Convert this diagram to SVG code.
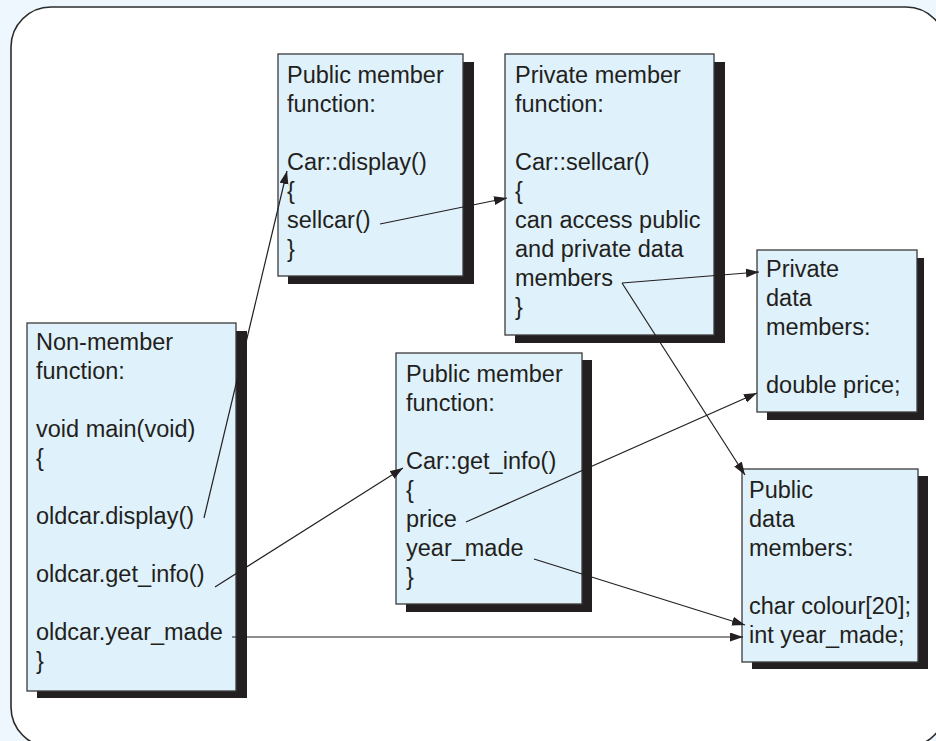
<svg xmlns="http://www.w3.org/2000/svg" width="936" height="741" viewBox="0 0 936 741">
<defs>
<style>
.bg{fill:#eef7fd}
.frame{fill:#ffffff;stroke:#2b2b2b;stroke-width:1.6}
.shadow{fill:#231f20}
.box{fill:#dff1fa;stroke:#3a3a3a;stroke-width:1.3}
text{font-family:"Liberation Sans",Arial,Helvetica,sans-serif;font-size:23.5px;fill:#231f20}
.conn line{stroke:#231f20;stroke-width:1.2;fill:none;marker-end:url(#arr)}
</style>
<marker id="arr" markerUnits="userSpaceOnUse" markerWidth="14" markerHeight="10" refX="13" refY="4.5" orient="auto">
<path d="M0,0 L13,4.5 L0,9 z" fill="#231f20"/>
</marker>
</defs>
<rect class="bg" x="0" y="0" width="936" height="741"/>
<rect class="frame" x="11" y="7" width="935" height="740" rx="40" ry="40"/>

<g id="public-display">
<rect class="shadow" x="288" y="62" width="186" height="222"/>
<rect class="box" x="278" y="54" width="185" height="222"/>
<text x="287" y="83">Public member</text>
<text x="287" y="112">function:</text>
<text x="287" y="170">Car::display()</text>
<text x="287" y="199">{</text>
<text x="287" y="228">sellcar()</text>
<text x="287" y="257">}</text>
</g>

<g id="private-sellcar">
<rect class="shadow" x="515" y="62" width="210" height="281"/>
<rect class="box" x="505" y="54" width="209" height="281"/>
<text x="515" y="83">Private member</text>
<text x="515" y="112">function:</text>
<text x="515" y="170">Car::sellcar()</text>
<text x="515" y="199">{</text>
<text x="515" y="228">can access public</text>
<text x="515" y="257">and private data</text>
<text x="515" y="286">members</text>
<text x="515" y="315">}</text>
</g>

<g id="private-data">
<rect class="shadow" x="767" y="258" width="157" height="162"/>
<rect class="box" x="757" y="250" width="160" height="162"/>
<text x="766" y="277">Private</text>
<text x="766" y="306">data</text>
<text x="766" y="335">members:</text>
<text x="766" y="393">double price;</text>
</g>

<g id="non-member">
<rect class="shadow" x="37" y="331" width="210" height="367"/>
<rect class="box" x="27" y="323" width="209" height="368"/>
<text x="36" y="350">Non-member</text>
<text x="36" y="379">function:</text>
<text x="36" y="437">void main(void)</text>
<text x="36" y="466">{</text>
<text x="36" y="524">oldcar.display()</text>
<text x="36" y="582">oldcar.get_info()</text>
<text x="36" y="640">oldcar.year_made</text>
<text x="36" y="669">}</text>
</g>

<g id="public-get-info">
<rect class="shadow" x="406" y="360" width="186" height="252"/>
<rect class="box" x="396" y="353" width="186" height="251"/>
<text x="406" y="382">Public member</text>
<text x="406" y="411">function:</text>
<text x="406" y="469">Car::get_info()</text>
<text x="406" y="498">{</text>
<text x="406" y="527">price</text>
<text x="406" y="556">year_made</text>
<text x="406" y="585">}</text>
</g>

<g id="public-data">
<rect class="shadow" x="752" y="476" width="176" height="193"/>
<rect class="box" x="742" y="469" width="176" height="193"/>
<text x="749" y="498">Public</text>
<text x="749" y="527">data</text>
<text x="749" y="556">members:</text>
<text x="749" y="614">char colour[20];</text>
<text x="749" y="643">int year_made;</text>
</g>

<g id="connectors" class="conn">
<line x1="204" y1="518" x2="287" y2="171"/>
<line x1="215" y1="587" x2="403" y2="468"/>
<line x1="232" y1="637" x2="743" y2="637"/>
<line x1="380" y1="224" x2="507" y2="198"/>
<line x1="622" y1="283" x2="759" y2="272"/>
<line x1="622" y1="283" x2="745" y2="475"/>
<line x1="466" y1="522" x2="757" y2="393"/>
<line x1="534" y1="559" x2="745" y2="625"/>
</g>
</svg>
